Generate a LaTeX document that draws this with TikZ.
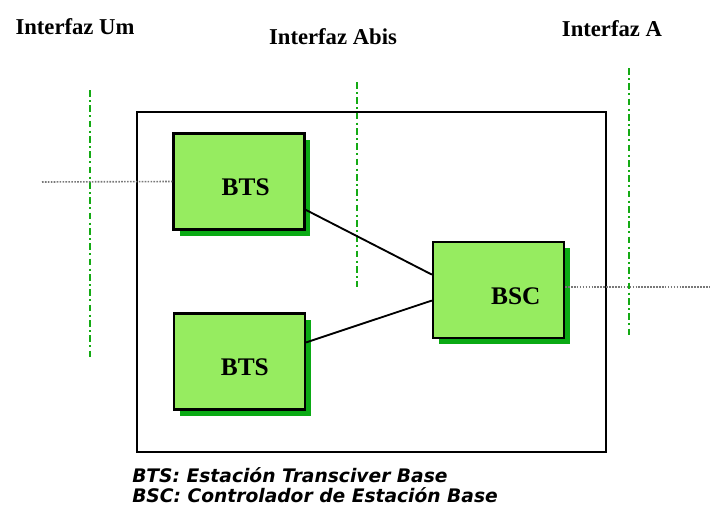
\documentclass[tikz,border=0pt]{standalone}
\usepackage{fontspec}
\setmainfont{Liberation Serif}
\newfontfamily\leyendafont{DejaVu Sans}
\usepackage{tikz}
\usetikzlibrary{calc,shadows}
\usetikzlibrary{positioning}

\definecolor{verdeclaro}{RGB}{150,236,96}
\definecolor{verdesombra}{RGB}{10,170,20}
\definecolor{verdeint}{RGB}{20,170,20}
\definecolor{grislinea}{RGB}{120,120,120}

\tikzset{
  equipo/.style={draw,line width=1.9,fill=verdeclaro,minimum width=98pt,minimum height=72pt,inner sep=0pt,
    general shadow={fill=verdesombra,shadow xshift=4.5pt,shadow yshift=-4.5pt}},
  etiqueta/.style={font=\fontsize{17}{20}\selectfont\bfseries},
  nombre/.style={font=\fontsize{19}{22}\selectfont\bfseries},
  interfaz/.style={verdeint,line width=1.7,dash pattern=on 5pt off 2.5pt on 1.5pt off 2.5pt},
  enlace/.style={grislinea,line width=1.2,densely dotted}
}

\begin{document}
\begin{tikzpicture}[x=0.75pt,y=0.75pt,yscale=-1,xscale=1]
\useasboundingbox (0,0) rectangle (711,514);

%Shape: Rectangle [id:bss]
\node (bss) [draw,line width=1.6,minimum width=352pt,minimum height=255pt,inner sep=0pt] at (371.5,282) {};

%Interfaces
\coordinate (um1) at (90,90);  \coordinate (um2) at (90,358);
\coordinate (abis1) at (357,82); \coordinate (abis2) at (357,287);
\coordinate (a1) at (629,68);  \coordinate (a2) at (629,336);
\draw [interfaz] (um1) -- (um2) ;
\draw [interfaz] (abis1) -- (abis2) ;
\draw [interfaz] (a1) -- (a2) ;

%Shape: Rectangle [id:bts1]
\node (bts1) [equipo,label={[nombre,xshift=5pt,yshift=-4pt]center:BTS}] at (239,181.5) {};
%Shape: Rectangle [id:bts2]
\node (bts2) [equipo,label={[nombre,xshift=4pt,yshift=-4pt]center:BTS}] at (239.5,361.5) {};
%Shape: Rectangle [id:bsc]
\node (bsc) [equipo,label={[nombre,xshift=13pt,yshift=-5pt]center:BSC}] at (498.5,290) {};

%Straight Lines
\draw [line width=1.4] (bts1.-23) -- (bsc.167) ;
\draw [line width=1.4] (bts2.16) -- (bsc.189) ;

%Dotted Lines
\coordinate (mov) at (42,182);
\coordinate (msc) at (711,287);
\draw [enlace] (mov) -- (bts1.west) ;
\draw [enlace] (bsc.east |- msc) -- (msc) ;

% Text Node
\node (tum) [etiqueta] at (75,27) {Interfaz Um};
% Text Node
\node (tabis) [etiqueta] at (333,37) {Interfaz Abis};
% Text Node
\node (ta) [etiqueta] at (612,29) {Interfaz A};
% Text Node
\node (ley) [anchor=north west,inner sep=0pt,align=left,font=\leyendafont\bfseries\itshape\fontsize{14}{15}\selectfont] at (132,467)
  {BTS: Estación Transciver Base\\BSC: Controlador de Estación Base};

\end{tikzpicture}
\end{document}
